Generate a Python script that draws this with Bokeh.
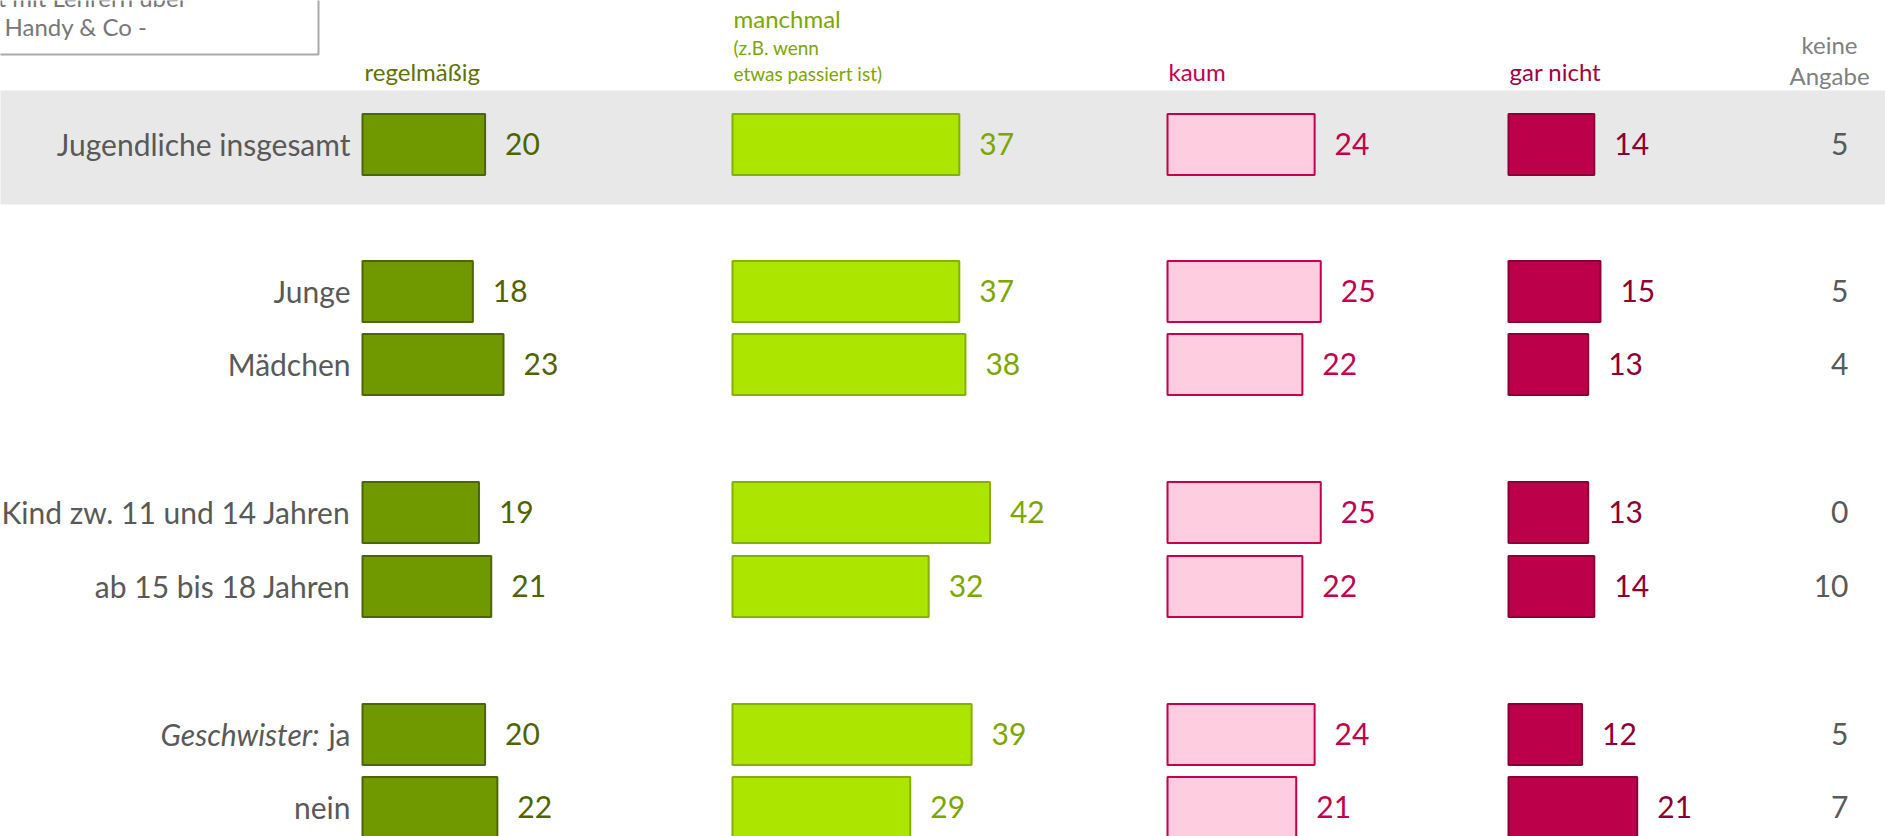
from bokeh.plotting import figure
from bokeh.models import Range1d, ColumnDataSource
from bokeh.core.properties import value
from bokeh.embed import file_html
from bokeh.resources import INLINE

# ---------------- data ----------------
groups = ["Jugendliche insgesamt", "Junge", "Mädchen", "Kind zw. 11 und 14 Jahren",
          "ab 15 bis 18 Jahren", "Geschwister: ja", "nein"]
regelmaessig = [20, 18, 23, 19, 21, 20, 22]
manchmal = [37, 37, 38, 42, 32, 39, 29]
kaum = [24, 25, 22, 25, 22, 24, 21]
gar_nicht = [14, 15, 13, 13, 14, 12, 21]
keine_angabe = [5, 5, 4, 0, 10, 5, 7]

# ---------------- layout ----------------
W, H = 1885, 836
ROW_CENTER = [144, 291, 364, 512, 586, 734, 807]
BAR_H = 61
UNIT = 6.13          # px per percent
COL_X0 = [362, 732, 1167, 1508]
KEINE_X = 1848
FONT = value("Lato")
ROW_FS = 30


def base(y, fs):
    """baseline position corrected for the renderer's offset"""
    return y - 0.37 * fs


p = figure(width=W, height=H, x_range=Range1d(0, W), y_range=Range1d(H, 0),
           output_backend="svg", toolbar_location=None, min_border=0)
p.axis.visible = False
p.grid.visible = False
p.outline_line_color = None
p.background_fill_color = "white"
p.border_fill_color = "white"

# grey band behind total row
p.quad(left=-20, right=W + 20, top=90, bottom=204, fill_color="#e8e8e8", line_color=None)

# title box (cut off at top-left)
p.quad(left=-20, right=318, top=-20, bottom=54, fill_color="white",
       line_color="#a9a9a9", line_width=2)
p.text(x=[-3], y=[base(6, 24)], text=["t mit Lehrern über"], text_font=FONT,
       text_font_size="24px", text_color="#777777", text_align="left",
       text_baseline="alphabetic")
p.text(x=[4], y=[base(35, 24)], text=["Handy & Co -"], text_font=FONT,
       text_font_size="24px", text_color="#777777", text_align="left",
       text_baseline="alphabetic")

series = [
    (regelmaessig, "#709900", "#4d6600", "#4f6300"),
    (manchmal, "#ace500", "#84b000", "#7ea600"),
    (kaum, "#ffcce0", "#c4004f", "#c2004f"),
    (gar_nicht, "#bd004a", "#8a0036", "#8c0036"),
]

for (vals, fill, line, tcol), x0 in zip(series, COL_X0):
    src = ColumnDataSource(dict(
        left=[x0] * len(vals),
        right=[x0 + v * UNIT for v in vals],
        top=[c - BAR_H / 2 for c in ROW_CENTER],
        bottom=[c + BAR_H / 2 for c in ROW_CENTER],
        tx=[x0 + v * UNIT + 20 for v in vals],
        ty=[base(c + 11, ROW_FS) for c in ROW_CENTER],
        label=[str(v) for v in vals],
    ))
    p.quad(left="left", right="right", top="top", bottom="bottom", source=src,
           fill_color=fill, line_color=line, line_width=2)
    p.text(x="tx", y="ty", text="label", source=src, text_font=FONT,
           text_font_size=f"{ROW_FS}px", text_color=tcol, text_align="left",
           text_baseline="alphabetic")

# keine Angabe values
p.text(x=[KEINE_X] * len(keine_angabe), y=[base(c + 11, ROW_FS) for c in ROW_CENTER],
       text=[str(v) for v in keine_angabe], text_font=FONT, text_font_size=f"{ROW_FS}px",
       text_color="#595959", text_align="right", text_baseline="alphabetic")

# row labels
plain_labels = [g for g in groups]
plain_labels[5] = "ja"
p.text(x=[350] * len(groups), y=[base(c + 11, ROW_FS) for c in ROW_CENTER],
       text=plain_labels, text_font=FONT, text_font_size=f"{ROW_FS}px",
       text_color="#595959", text_align="right", text_baseline="alphabetic")
p.text(x=[319], y=[base(ROW_CENTER[5] + 11, ROW_FS)], text=["Geschwister:"],
       text_font=FONT, text_font_size=f"{ROW_FS}px", text_font_style="italic",
       text_color="#595959", text_align="right", text_baseline="alphabetic")


# column headers
def hdr(x, y, t, col, fs, align="left"):
    p.text(x=[x], y=[base(y, fs)], text=[t], text_font=FONT, text_font_size=f"{fs}px",
           text_color=col, text_align=align, text_baseline="alphabetic")


hdr(364, 80, "regelmäßig", "#5f7300", 24)
hdr(733, 27, "manchmal", "#7ea600", 24)
hdr(733, 54, "(z.B. wenn", "#7ea600", 19)
hdr(733, 80, "etwas passiert ist)", "#7ea600", 19)
hdr(1168, 80, "kaum", "#c4004f", 24)
hdr(1509, 80, "gar nicht", "#a3003f", 24)
hdr(1829, 53, "keine", "#808080", 24, "center")
hdr(1829, 84, "Angabe", "#808080", 24, "center")

open("out.html", "w").write(file_html(p, INLINE))
